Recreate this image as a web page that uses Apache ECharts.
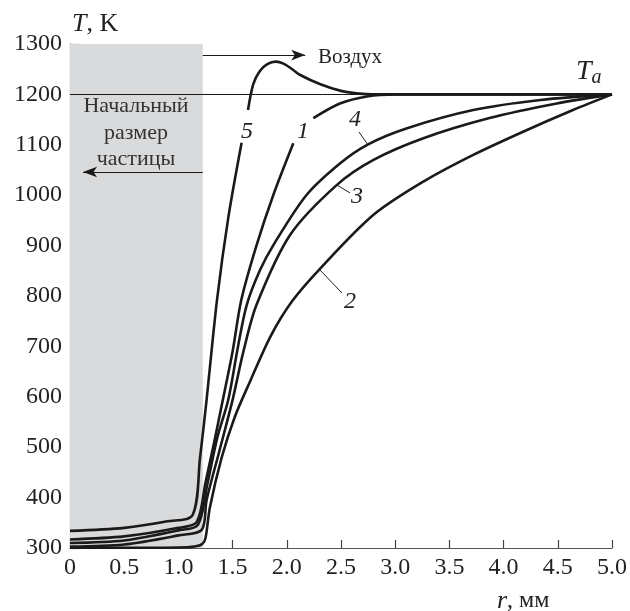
<!DOCTYPE html>
<html>
<head>
<meta charset="utf-8">
<script src="https://cdn.jsdelivr.net/npm/echarts@6/dist/echarts.min.js"></script>
<style>
html,body{margin:0;padding:0;background:#fff;}
#chart{width:630px;height:611px;}
</style>
</head>
<body>
<div id="chart"></div>
<script>
// x ticks (r, mm) and y ticks (T, K)
const xTicks = [0, 0.5, 1.0, 1.5, 2.0, 2.5, 3.0, 3.5, 4.0, 4.5, 5.0];
const yTicks = [300, 400, 500, 600, 700, 800, 900, 1000, 1100, 1200, 1300];

const particleRadius = 1.225;   // initial particle size
const ambientT = 1200;          // T_a
const airArrowT = 1278;
const particleArrowT = 1046;

// curve 1
const curve1 = [[0,317],[0.5,323],[1.0,340],[1.17,352],[1.25,430],[1.33,510],[1.41,594],[1.5,690],[1.58,792],
  [1.72,900],[1.875,1000],[2.06,1103],[2.15,'-'],[2.245,1153],[2.49,1182],[2.74,1196],[3.0,1200],[4.0,1200],[5.0,1200]];
// curve 2
const curve2 = [[0,300.5],[0.5,300.5],[1.0,301],[1.15,303],[1.22,308],[1.25,320],[1.29,380],[1.4,480],[1.52,560],
  [1.66,630],[1.85,720],[2.05,790],[2.31,855],[2.8,961],[3.26,1027],[3.72,1080],[4.18,1126],[4.64,1169],[5.0,1200]];
// curve 3
const curve3 = [[0,303],[0.5,307],[1.0,325],[1.215,336],[1.26,395],[1.38,494],[1.5,594],[1.6,690],[1.72,782],
  [2.03,921],[2.46,1020],[2.8,1070],[3.26,1113],[3.87,1153],[4.49,1182],[5.0,1200]];
// curve 4
const curve4 = [[0,310],[0.5,315],[1.0,335],[1.18,346],[1.27,430],[1.36,520],[1.46,594],[1.55,700],[1.63,782],
  [1.75,850],[1.876,901],[2.18,1000],[2.49,1063],[2.75,1101],[3.11,1133],[3.72,1169],[4.34,1189],[5.0,1200]];
// curve 5
const curve5 = [[0,334],[0.5,340],[0.9,353],[1.13,365],[1.2,480],[1.26,594],[1.356,792],[1.46,955],[1.583,1104],
  [1.61,'-'],[1.642,1169],[1.69,1220],[1.75,1246],[1.82,1260],[1.9,1265],[1.97,1261],[2.05,1250],[2.12,1239],[2.31,1220],
  [2.5,1207],[2.7,1201],[2.9,1200],[5.0,1200]];

const FONT = 'Liberation Serif';
const INK = '#1a1a1a';

function curveSeries(name, data) {
  return {
    name: name, type: 'line', data: data, z: 3,
    showSymbol: false, smooth: 0.3, connectNulls: false,
    lineStyle: {color: INK, width: 2.6}, silent: true, animation: false
  };
}

function txt(text, x, y, size, extra) {
  return {type: 'text', z: 100, x: x, y: y, style: Object.assign({
    text: text, fill: '#222', fontFamily: FONT, fontSize: size
  }, extra || {})};
}

const chart = echarts.init(document.getElementById('chart'), null, {renderer: 'canvas'});
chart.setOption({
  animation: false,
  backgroundColor: '#fff',
  textStyle: {fontFamily: FONT},
  grid: {left: 70, right: 18, top: 44, bottom: 63},
  xAxis: {
    type: 'value', min: 0, max: 5, interval: 0.5,
    axisLine: {lineStyle: {color: '#555', width: 1.2}},
    axisTick: {inside: true, length: 8, lineStyle: {color: '#444', width: 1.2}},
    splitLine: {show: false},
    axisLabel: {
      margin: 8, color: '#222', fontFamily: FONT, fontSize: 24,
      formatter: v => (v === 0 ? '0' : v.toFixed(1))
    }
  },
  yAxis: {
    type: 'value', min: 300, max: 1300, interval: 100,
    axisLine: {show: true, lineStyle: {color: '#555', width: 1.2}},
    axisTick: {inside: true, length: 9, lineStyle: {color: '#444', width: 1.2}},
    splitLine: {show: false},
    axisLabel: {margin: 8, color: '#222', fontFamily: FONT, fontSize: 24, formatter: v => String(v)}
  },
  series: [
    {
      name: 'decor', type: 'line', data: [], z: 1, silent: true,
      markArea: {
        silent: true,
        itemStyle: {color: '#d9dadc'},
        data: [[{coord: [0, yTicks[0]]}, {coord: [particleRadius, yTicks[yTicks.length - 1]]}]]
      },
      markLine: {
        silent: true, symbol: ['none', 'none'], label: {show: false},
        lineStyle: {color: INK, width: 1, type: 'solid'},
        data: [
          [{coord: [0, ambientT]}, {coord: [5, ambientT]}],
          [{coord: [particleRadius, airArrowT], symbol: 'none'}, {coord: [2.17, airArrowT], symbol: 'arrow', symbolSize: [8, 14]}],
          [{coord: [particleRadius, particleArrowT], symbol: 'none'}, {coord: [0.12, particleArrowT], symbol: 'arrow', symbolSize: [8, 14]}]
        ]
      }
    },
    curveSeries('2', curve2),
    curveSeries('3', curve3),
    curveSeries('4', curve4),
    curveSeries('1', curve1),
    curveSeries('5', curve5)
  ],
  graphic: [
    txt('{i|T}, K', 72, 11, 26, {rich: {i: {fontStyle: 'italic', fontFamily: FONT, fontSize: 26, fill: '#222'}}}),
    txt('{i|r}, мм', 497, 588, 24, {rich: {i: {fontStyle: 'italic', fontFamily: FONT, fontSize: 26, fill: '#222'}}}),
    txt('Начальный\nразмер\nчастицы', 136, 93, 22, {fill: '#333', align: 'center', lineHeight: 26.5}),
    txt('Воздух', 318, 47, 21, {}),
    txt('{t|T}{s|a}', 576, 56, 27, {rich: {
      t: {fontStyle: 'italic', fontFamily: FONT, fontSize: 28, fill: '#222'},
      s: {fontStyle: 'italic', fontFamily: FONT, fontSize: 20, fill: '#222', padding: [12, 0, 0, 0]}
    }}),
    txt('5', 247, 132, 24, {fontStyle: 'italic', align: 'center', verticalAlign: 'middle'}),
    txt('1', 303, 132, 24, {fontStyle: 'italic', align: 'center', verticalAlign: 'middle'}),
    txt('4', 355, 120, 24, {fontStyle: 'italic', align: 'center', verticalAlign: 'middle'}),
    txt('3', 357, 197, 24, {fontStyle: 'italic', align: 'center', verticalAlign: 'middle'}),
    txt('2', 350, 302, 24, {fontStyle: 'italic', align: 'center', verticalAlign: 'middle'}),
    {type: 'line', z: 100, shape: {x1: 359, y1: 132, x2: 368, y2: 145}, style: {stroke: '#222', lineWidth: 1}},
    {type: 'line', z: 100, shape: {x1: 337, y1: 185, x2: 350, y2: 193}, style: {stroke: '#222', lineWidth: 1}},
    {type: 'line', z: 100, shape: {x1: 320, y1: 270, x2: 342, y2: 293}, style: {stroke: '#222', lineWidth: 1}}
  ]
});
</script>
</body>
</html>
